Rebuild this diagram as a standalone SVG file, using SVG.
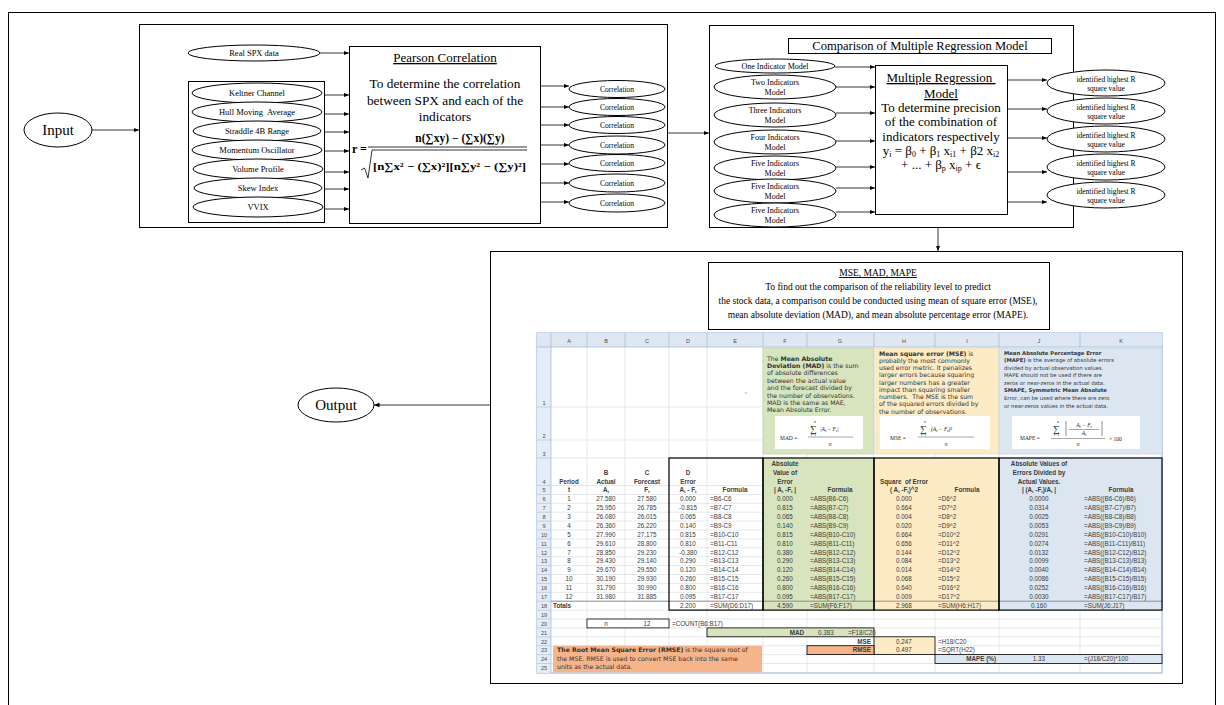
<svg xmlns="http://www.w3.org/2000/svg" width="1224" height="705" viewBox="0 0 1224 705">
<defs>
<marker id="ah" markerWidth="6" markerHeight="6" refX="5.5" refY="3" orient="auto" markerUnits="userSpaceOnUse">
<path d="M0,0.8 L5.5,3 L0,5.2 Z" fill="#000"/>
</marker>
</defs>
<style>
.bx{fill:#fff;stroke:#000;stroke-width:1}
.bn{fill:none;stroke:#000;stroke-width:1}
.el{fill:#fff;stroke:#000;stroke-width:1}
.sf{font-family:"Liberation Serif","Times New Roman",serif;fill:#000}
.mid{text-anchor:middle}
#connectors path{stroke:#000;stroke-width:0.8;fill:none;marker-end:url(#ah)}
.s{font-family:"Liberation Sans",Arial,sans-serif;font-size:6.3px;fill:#3b3b3b}
.m{text-anchor:middle}
.r{text-anchor:end}
.w{font-weight:bold}
.h{font-family:"Liberation Sans",Arial,sans-serif;font-size:5.6px;fill:#4a4a4a;text-anchor:middle}
.dg{font-family:"DejaVu Sans",sans-serif;font-size:6.2px;fill:#333}
.db{font-family:"DejaVu Sans",sans-serif;font-size:5.3px;fill:#333}
.fm{font-family:"Liberation Serif","Times New Roman",serif;fill:#222}
.sub{font-size:4.4px}
.grid{stroke:#d4d8de;stroke-width:0.6;fill:none}
.tb{fill:none;stroke:#000;stroke-width:1.2}
</style>

<rect id="frame" x="8.5" y="12.5" width="1207" height="700" class="bn"/>

<g id="input">
<ellipse class="el" cx="58" cy="130" rx="34" ry="17"/>
<text class="sf mid" x="58" y="135" font-size="15">Input</text>
</g>

<g id="indicatorStage">
<rect class="bx" x="139.5" y="24.5" width="528" height="203"/>
<rect class="bn" x="188.5" y="81.5" width="136" height="141"/>
</g>

<g id="realSPX">
<ellipse class="el" cx="254" cy="53" rx="66" ry="8"/>
<text class="sf mid" x="254" y="56" font-size="8.5">Real SPX data</text>
</g>
<g id="keltner"><ellipse class="el" cx="257" cy="93" rx="65" ry="10"/><text class="sf mid" x="257" y="96" font-size="8.5">Keltner Channel</text></g>
<g id="hull"><ellipse class="el" cx="257" cy="112" rx="65" ry="10"/><text class="sf mid" x="257" y="115" font-size="8.5" xml:space="preserve">Hull Moving  Average</text></g>
<g id="straddle"><ellipse class="el" cx="257" cy="131" rx="64" ry="10"/><text class="sf mid" x="257" y="134" font-size="8.5">Straddle 4B Range</text></g>
<g id="momentum"><ellipse class="el" cx="257" cy="150" rx="65" ry="10"/><text class="sf mid" x="257" y="153" font-size="8.5">Momentum Oscillator</text></g>
<g id="volume"><ellipse class="el" cx="258" cy="169" rx="65" ry="10"/><text class="sf mid" x="258" y="172" font-size="8.5">Volume Profile</text></g>
<g id="skew"><ellipse class="el" cx="258" cy="188" rx="64" ry="10"/><text class="sf mid" x="258" y="191" font-size="8.5">Skew Index</text></g>
<g id="vvix"><ellipse class="el" cx="258" cy="207" rx="65" ry="10"/><text class="sf mid" x="258" y="210" font-size="8.5">VVIX</text></g>

<g id="pearson">
<rect class="bx" x="349.5" y="46.5" width="191" height="177"/>
<text class="sf mid" x="445" y="62" font-size="13" text-decoration="underline">Pearson Correlation</text>
<text class="sf mid" x="445" y="88" font-size="13.3">To determine the correlation</text>
<text class="sf mid" x="445" y="105" font-size="13.3">between SPX and each of the</text>
<text class="sf mid" x="445" y="121" font-size="13.3">indicators</text>
<text class="sf" x="352" y="153" font-size="12" font-weight="bold">r =</text>
<text class="sf mid" x="460" y="142" font-size="11.5" font-weight="bold">n(∑xy) − (∑x)(∑y)</text>
<line x1="368" y1="147" x2="527" y2="147" stroke="#000" stroke-width="0.8"/>
<path d="M361,170 L364.5,168 L368,178 L372,150 L527,150" fill="none" stroke="#000" stroke-width="0.8"/>
<text class="sf" x="373" y="170" font-size="11" font-weight="bold" textLength="153" lengthAdjust="spacingAndGlyphs">[n∑x² − (∑x)²][n∑y² − (∑y)²]</text>
</g>

<g id="corr1"><ellipse class="el" cx="617" cy="89" rx="48" ry="8.5"/><text class="sf mid" x="617" y="91.6" font-size="7.5">Correlation</text></g>
<g id="corr2"><ellipse class="el" cx="617" cy="107" rx="48" ry="8.5"/><text class="sf mid" x="617" y="109.6" font-size="7.5">Correlation</text></g>
<g id="corr3"><ellipse class="el" cx="617" cy="125" rx="48" ry="8.5"/><text class="sf mid" x="617" y="127.6" font-size="7.5">Correlation</text></g>
<g id="corr4"><ellipse class="el" cx="617" cy="145" rx="48" ry="9"/><text class="sf mid" x="617" y="147.6" font-size="7.5">Correlation</text></g>
<g id="corr5"><ellipse class="el" cx="617" cy="163" rx="48" ry="8.5"/><text class="sf mid" x="617" y="165.6" font-size="7.5">Correlation</text></g>
<g id="corr6"><ellipse class="el" cx="617" cy="183" rx="48" ry="9"/><text class="sf mid" x="617" y="185.6" font-size="7.5">Correlation</text></g>
<g id="corr7"><ellipse class="el" cx="617" cy="203" rx="48" ry="9"/><text class="sf mid" x="617" y="205.6" font-size="7.5">Correlation</text></g>

<g id="regressionStage">
<rect class="bx" x="709.5" y="25.5" width="364" height="202"/>
<rect class="bx" x="788.5" y="38.5" width="263" height="15"/>
<text class="sf mid" x="920" y="50" font-size="12.5">Comparison of Multiple Regression Model</text>
</g>

<g id="model1"><ellipse class="el" cx="775" cy="66" rx="60" ry="7"/><text class="sf mid" x="775" y="68.8" font-size="8">One Indicator Model</text></g>
<g id="model2"><ellipse class="el" cx="775" cy="87" rx="61" ry="12"/><text class="sf mid" x="775" y="85" font-size="8">Two Indicators</text><text class="sf mid" x="775" y="95" font-size="8">Model</text></g>
<g id="model3"><ellipse class="el" cx="775" cy="115" rx="61" ry="12"/><text class="sf mid" x="775" y="113" font-size="8">Three Indicators</text><text class="sf mid" x="775" y="123" font-size="8">Model</text></g>
<g id="model4"><ellipse class="el" cx="775" cy="142" rx="61" ry="12"/><text class="sf mid" x="775" y="140" font-size="8">Four Indicators</text><text class="sf mid" x="775" y="150" font-size="8">Model</text></g>
<g id="model5"><ellipse class="el" cx="775" cy="168" rx="61" ry="12"/><text class="sf mid" x="775" y="166" font-size="8">Five Indicators</text><text class="sf mid" x="775" y="176" font-size="8">Model</text></g>
<g id="model6"><ellipse class="el" cx="775" cy="191" rx="61" ry="12"/><text class="sf mid" x="775" y="189" font-size="8">Five Indicators</text><text class="sf mid" x="775" y="199" font-size="8">Model</text></g>
<g id="model7"><ellipse class="el" cx="775" cy="215" rx="61" ry="12"/><text class="sf mid" x="775" y="213" font-size="8">Five Indicators</text><text class="sf mid" x="775" y="223" font-size="8">Model</text></g>

<g id="multipleRegression">
<rect class="bx" x="875.5" y="65.5" width="132" height="149"/>
<text class="sf mid" x="941" y="82" font-size="13" text-decoration="underline">Multiple Regression&#160;</text>
<text class="sf mid" x="941" y="98" font-size="13" text-decoration="underline">Model</text>
<text class="sf mid" x="941" y="112" font-size="13">To determine precision</text>
<text class="sf mid" x="941" y="126" font-size="13">of the combination of</text>
<text class="sf mid" x="941" y="141" font-size="13">indicators respectively</text>
<text class="sf mid" x="941" y="155" font-size="13">y<tspan font-size="8" dy="2">i</tspan><tspan dy="-2"> = β</tspan><tspan font-size="8" dy="2">0</tspan><tspan dy="-2"> + β</tspan><tspan font-size="8" dy="2">1</tspan><tspan dy="-2"> x</tspan><tspan font-size="8" dy="2">i1</tspan><tspan dy="-2"> + β2 x</tspan><tspan font-size="8" dy="2">i2</tspan></text>
<text class="sf mid" x="941" y="169" font-size="13">+ ... + β<tspan font-size="8" dy="2">p</tspan><tspan dy="-2"> x</tspan><tspan font-size="8" dy="2">ip</tspan><tspan dy="-2"> + ϵ</tspan></text>
</g>

<g id="out1"><ellipse class="el" cx="1106" cy="83" rx="59" ry="13"/><text class="sf mid" x="1106" y="81.5" font-size="7.5">identified highest R</text><text class="sf mid" x="1106" y="91" font-size="7.5">square value</text></g>
<g id="out2"><ellipse class="el" cx="1106" cy="111" rx="59" ry="13"/><text class="sf mid" x="1106" y="109.5" font-size="7.5">identified highest R</text><text class="sf mid" x="1106" y="119" font-size="7.5">square value</text></g>
<g id="out3"><ellipse class="el" cx="1106" cy="139" rx="59" ry="13"/><text class="sf mid" x="1106" y="137.5" font-size="7.5">identified highest R</text><text class="sf mid" x="1106" y="147" font-size="7.5">square value</text></g>
<g id="out4"><ellipse class="el" cx="1106" cy="167" rx="59" ry="13"/><text class="sf mid" x="1106" y="165.5" font-size="7.5">identified highest R</text><text class="sf mid" x="1106" y="175" font-size="7.5">square value</text></g>
<g id="out5"><ellipse class="el" cx="1106" cy="195" rx="59" ry="13"/><text class="sf mid" x="1106" y="193.5" font-size="7.5">identified highest R</text><text class="sf mid" x="1106" y="203" font-size="7.5">square value</text></g>

<g id="errorStage">
<rect class="bx" x="490.5" y="251.5" width="692" height="432"/>
</g>

<g id="mseBox">
<rect class="bx" x="708.5" y="262.5" width="341" height="67"/>
<text class="sf mid" x="878" y="276" font-size="9.5" text-decoration="underline">MSE, MAD, MAPE</text>
<text class="sf mid" x="878" y="290" font-size="9.5">To find out the comparison of the reliability level to predict</text>
<text class="sf mid" x="878" y="304" font-size="9.5">the stock data, a comparison could be conducted using mean of square error (MSE),</text>
<text class="sf mid" x="878" y="318" font-size="9.5">mean absolute deviation (MAD), and mean absolute percentage error (MAPE).</text>
</g>

<g id="output">
<ellipse class="el" cx="336" cy="405" rx="38" ry="17"/>
<text class="sf mid" x="336" y="410" font-size="15">Output</text>
</g>

<g id="spreadsheet">
<rect x="537" y="333" width="625" height="340" fill="#fff" stroke="#8eaadb" stroke-width="1"/>
<rect x="537" y="333" width="625" height="14" fill="#dfe7f2"/>
<rect x="537" y="347" width="14" height="326" fill="#e4ecf7"/>
<path d="M537,347H1162 M551,333V673 M587,333V347 M625,333V347 M669,333V347 M707,333V347 M763,333V347 M807,333V347 M874,333V347 M935,333V347 M999,333V347 M1080,333V347" stroke="#9eb6ce" stroke-width="0.7" fill="none"/>
<g class="h">
<text x="569" y="342.5">A</text><text x="606" y="342.5">B</text><text x="647" y="342.5">C</text><text x="688" y="342.5">D</text><text x="735" y="342.5">E</text><text x="785" y="342.5">F</text><text x="840" y="342.5">G</text><text x="904" y="342.5">H</text><text x="967" y="342.5">I</text><text x="1039" y="342.5">J</text><text x="1121" y="342.5">K</text>
<text x="544" y="405">1</text><text x="544" y="438">2</text><text x="544" y="456">3</text><text x="544" y="483.5">4</text>
</g>
<path class="grid" d="M587,347V672.4 M625,347V672.4 M669,347V672.4 M707,347V672.4 M763,347V672.4 M807,347V672.4 M874,347V672.4 M935,347V672.4 M999,347V672.4 M1080,347V672.4 M551,407H1162 M551,440H1162 M551,458H1162 M551,485.5H1162 M551,494.4H1162 M551,503.3H1162 M551,512.2H1162 M551,521.1H1162 M551,530H1162 M551,538.9H1162 M551,547.8H1162 M551,556.7H1162 M551,565.6H1162 M551,574.5H1162 M551,583.4H1162 M551,592.3H1162 M551,601.2H1162 M551,610.1H1162 M551,619H1162 M551,627.9H1162 M551,636.8H1162 M551,645.7H1162 M551,654.6H1162 M551,663.5H1162"/>
<path d="M537,407H551 M537,440H551 M537,458H551 M537,485.5H551 M537,494.4H551 M537,503.3H551 M537,512.2H551 M537,521.1H551 M537,530H551 M537,538.9H551 M537,547.8H551 M537,556.7H551 M537,565.6H551 M537,574.5H551 M537,583.4H551 M537,592.3H551 M537,601.2H551 M537,610.1H551 M537,619H551 M537,627.9H551 M537,636.8H551 M537,645.7H551 M537,654.6H551 M537,663.5H551" stroke="#9eb6ce" stroke-width="0.5"/>
<text x="745" y="394" font-family="Liberation Sans,Arial,sans-serif" font-size="4" fill="#999">n</text>

<rect x="763" y="348" width="111" height="106" fill="#d7e4bd" stroke="#b9c99c" stroke-width="0.6"/>
<rect x="876" y="348" width="123" height="106" fill="#fcebc5" stroke="#e6d3a4" stroke-width="0.6"/>
<rect x="999" y="348" width="163" height="106" fill="#dce6f1" stroke="#b8cce4" stroke-width="0.6"/>
<g class="dg">
<text x="767" y="360.5">The <tspan font-weight="bold">Mean Absolute</tspan></text>
<text x="767" y="368"><tspan font-weight="bold">Deviation (MAD)</tspan> is the sum</text>
<text x="767" y="375.4">of absolute differences</text>
<text x="767" y="382.8">between the actual value</text>
<text x="767" y="390.2">and the forecast divided by</text>
<text x="767" y="397.6">the number of observations.</text>
<text x="767" y="405">MAD is the same as MAE,</text>
<text x="767" y="412.4">Mean Absolute Error.</text>
<text x="879" y="355.5"><tspan font-weight="bold">Mean square error (MSE)</tspan> is</text>
<text x="879" y="362.8">probably the most commonly</text>
<text x="879" y="370">used error metric. It penalizes</text>
<text x="879" y="377.3">larger errors because squaring</text>
<text x="879" y="384.5">larger numbers has a greater</text>
<text x="879" y="391.8">impact than squaring smaller</text>
<text x="879" y="399" xml:space="preserve">numbers.  The MSE is the sum</text>
<text x="879" y="406.3">of the squared errors divided by</text>
<text x="879" y="413.5">the number of observations.</text>
</g>
<g class="db">
<text x="1004" y="354.5" font-weight="bold">Mean Absolute Percentage Error</text>
<text x="1004" y="362.1"><tspan font-weight="bold">(MAPE)</tspan> is the average of absolute errors</text>
<text x="1004" y="369.6">divided by actual observation values.</text>
<text x="1004" y="377.2">MAPE should not be used if there are</text>
<text x="1004" y="384.8">zeros or near-zeros in the actual data.</text>
<text x="1004" y="392.4" font-weight="bold">SMAPE, Symmetric Mean Absolute</text>
<text x="1004" y="399.9">Error, can be used where there are zero</text>
<text x="1004" y="407.5">or near-zeros values in the actual data.</text>
</g>
<rect x="775" y="416" width="88" height="33" fill="#fff"/>
<rect x="880" y="416" width="110" height="33" fill="#fff"/>
<rect x="1012" y="416" width="128" height="33" fill="#fff"/>
<g class="fm">
<text x="780" y="440" font-size="5.5">MAD =</text>
<text x="814" y="423" font-size="3.8" font-style="italic">n</text>
<text x="810" y="432" font-size="9">∑</text>
<text x="811" y="436" font-size="3.8" font-style="italic">t=1</text>
<text x="820" y="431" font-size="5.5" font-style="italic">|A<tspan class="sub" dy="1">t</tspan><tspan dy="-1"> − F</tspan><tspan class="sub" dy="1">t</tspan><tspan dy="-1">|</tspan></text>
<line x1="808" y1="437" x2="853" y2="437" stroke="#222" stroke-width="0.4"/>
<text x="830" y="446" font-size="5.5" font-style="italic" text-anchor="middle">n</text>
<text x="890" y="440" font-size="5.5">MSE =</text>
<text x="924" y="423" font-size="3.8" font-style="italic">n</text>
<text x="920" y="432" font-size="9">∑</text>
<text x="921" y="436" font-size="3.8" font-style="italic">t=1</text>
<text x="931" y="431" font-size="5.5" font-style="italic">(A<tspan class="sub" dy="1">t</tspan><tspan dy="-1"> − F</tspan><tspan class="sub" dy="1">t</tspan><tspan dy="-1">)²</tspan></text>
<line x1="918" y1="437" x2="974" y2="437" stroke="#222" stroke-width="0.4"/>
<text x="946" y="446" font-size="5.5" font-style="italic" text-anchor="middle">n</text>
<text x="1020" y="440" font-size="5.5">MAPE =</text>
<text x="1057" y="423" font-size="3.8" font-style="italic">n</text>
<text x="1053" y="432" font-size="9">∑</text>
<text x="1054" y="436" font-size="3.8" font-style="italic">t=1</text>
<path d="M1066,421V436 M1102,421V436" stroke="#222" stroke-width="0.5"/>
<text x="1084" y="427" font-size="5.5" font-style="italic" text-anchor="middle">A<tspan class="sub" dy="1">t</tspan><tspan dy="-1"> − F</tspan><tspan class="sub" dy="1">t</tspan></text>
<line x1="1069" y1="429.5" x2="1099" y2="429.5" stroke="#222" stroke-width="0.4"/>
<text x="1084" y="435" font-size="5.5" font-style="italic" text-anchor="middle">A<tspan class="sub" dy="1">t</tspan></text>
<line x1="1051" y1="438.5" x2="1105" y2="438.5" stroke="#222" stroke-width="0.4"/>
<text x="1078" y="446" font-size="5.5" font-style="italic" text-anchor="middle">n</text>
<text x="1109" y="441" font-size="5.5">× 100</text>
</g>

<rect x="763" y="458" width="111" height="152.1" fill="#d7e4bd"/>
<rect x="874" y="458" width="125" height="152.1" fill="#fcebc5"/>
<rect x="999" y="458" width="163" height="152.1" fill="#dce6f1"/>
<path d="M551,601.2H1162" stroke="#555" stroke-width="0.6"/>
<rect class="tb" x="669" y="458" width="94" height="152.1"/>
<rect class="tb" x="763" y="458" width="111" height="152.1"/>
<rect class="tb" x="874" y="458" width="125" height="152.1"/>
<rect class="tb" x="999" y="458" width="163" height="152.1"/>

<g class="s w">
<text class="m" x="569" y="483.5">Period</text>
<text class="m" x="606" y="475">B</text><text class="m" x="606" y="483.5">Actual</text>
<text class="m" x="647" y="475">C</text><text class="m" x="647" y="483.5">Forecast</text>
<text class="m" x="688" y="475">D</text><text class="m" x="688" y="483.5">Error</text>
<text class="m" x="785" y="465.5">Absolute</text><text class="m" x="785" y="474.5">Value of</text><text class="m" x="785" y="483.5">Error</text>
<text class="m" x="904" y="483.5" xml:space="preserve">Square  of Error</text>
<text class="m" x="1039" y="465.5">Absolute Values of</text><text class="m" x="1039" y="474.5">Errors Divided by</text><text class="m" x="1039" y="483.5">Actual Values.</text>
</g>
<g transform="translate(0,492.2)">
<text class="h" x="544">5</text>
<g class="s w">
<text class="m" x="569">t</text>
<text class="m" x="606">A<tspan class="sub" dy="1">t</tspan></text>
<text class="m" x="647">F<tspan class="sub" dy="1">t</tspan></text>
<text class="m" x="688">A<tspan class="sub" dy="1">t</tspan><tspan dy="-1"> - F</tspan><tspan class="sub" dy="1">t</tspan></text>
<text class="m" x="735">Formula</text>
<text class="m" x="785">| A<tspan class="sub" dy="1">t</tspan><tspan dy="-1"> -F</tspan><tspan class="sub" dy="1">t</tspan><tspan dy="-1"> |</tspan></text>
<text class="m" x="840">Formula</text>
<text class="m" x="904">( A<tspan class="sub" dy="1">t</tspan><tspan dy="-1"> -F</tspan><tspan class="sub" dy="1">t</tspan><tspan dy="-1">)^2</tspan></text>
<text class="m" x="967">Formula</text>
<text class="m" x="1039">| (A<tspan class="sub" dy="1">t</tspan><tspan dy="-1"> -F</tspan><tspan class="sub" dy="1">t</tspan><tspan dy="-1">)/A</tspan><tspan class="sub" dy="1">t</tspan><tspan dy="-1"> |</tspan></text>
<text class="m" x="1121">Formula</text>
</g>
</g>

<g transform="translate(0,501.1)"><text class="h" x="544">6</text><g class="s"><text class="m" x="569">1</text><text class="m" x="606">27.580</text><text class="m" x="647">27.580</text><text class="m" x="688">0.000</text><text x="710">=B6-C6</text><text class="m" x="785">0.000</text><text x="810">=ABS(B6-C6)</text><text class="m" x="904">0.000</text><text x="938">=D6^2</text><text class="m" x="1039">0.0000</text><text x="1084">=ABS((B6-C6)/B6)</text></g></g>
<g transform="translate(0,510)"><text class="h" x="544">7</text><g class="s"><text class="m" x="569">2</text><text class="m" x="606">25.950</text><text class="m" x="647">26.785</text><text class="m" x="688">-0.815</text><text x="710">=B7-C7</text><text class="m" x="785">0.815</text><text x="810">=ABS(B7-C7)</text><text class="m" x="904">0.664</text><text x="938">=D7^2</text><text class="m" x="1039">0.0314</text><text x="1084">=ABS((B7-C7)/B7)</text></g></g>
<g transform="translate(0,518.9)"><text class="h" x="544">8</text><g class="s"><text class="m" x="569">3</text><text class="m" x="606">26.080</text><text class="m" x="647">26.015</text><text class="m" x="688">0.065</text><text x="710">=B8-C8</text><text class="m" x="785">0.065</text><text x="810">=ABS(B8-C8)</text><text class="m" x="904">0.004</text><text x="938">=D8^2</text><text class="m" x="1039">0.0025</text><text x="1084">=ABS((B8-C8)/B8)</text></g></g>
<g transform="translate(0,527.8)"><text class="h" x="544">9</text><g class="s"><text class="m" x="569">4</text><text class="m" x="606">26.360</text><text class="m" x="647">26.220</text><text class="m" x="688">0.140</text><text x="710">=B9-C9</text><text class="m" x="785">0.140</text><text x="810">=ABS(B9-C9)</text><text class="m" x="904">0.020</text><text x="938">=D9^2</text><text class="m" x="1039">0.0053</text><text x="1084">=ABS((B9-C9)/B9)</text></g></g>
<g transform="translate(0,536.7)"><text class="h" x="544">10</text><g class="s"><text class="m" x="569">5</text><text class="m" x="606">27.990</text><text class="m" x="647">27.175</text><text class="m" x="688">0.815</text><text x="710">=B10-C10</text><text class="m" x="785">0.815</text><text x="810">=ABS(B10-C10)</text><text class="m" x="904">0.664</text><text x="938">=D10^2</text><text class="m" x="1039">0.0291</text><text x="1084">=ABS((B10-C10)/B10)</text></g></g>
<g transform="translate(0,545.6)"><text class="h" x="544">11</text><g class="s"><text class="m" x="569">6</text><text class="m" x="606">29.610</text><text class="m" x="647">28.800</text><text class="m" x="688">0.810</text><text x="710">=B11-C11</text><text class="m" x="785">0.810</text><text x="810">=ABS(B11-C11)</text><text class="m" x="904">0.656</text><text x="938">=D11^2</text><text class="m" x="1039">0.0274</text><text x="1084">=ABS((B11-C11)/B11)</text></g></g>
<g transform="translate(0,554.5)"><text class="h" x="544">12</text><g class="s"><text class="m" x="569">7</text><text class="m" x="606">28.850</text><text class="m" x="647">29.230</text><text class="m" x="688">-0.380</text><text x="710">=B12-C12</text><text class="m" x="785">0.380</text><text x="810">=ABS(B12-C12)</text><text class="m" x="904">0.144</text><text x="938">=D12^2</text><text class="m" x="1039">0.0132</text><text x="1084">=ABS((B12-C12)/B12)</text></g></g>
<g transform="translate(0,563.4)"><text class="h" x="544">13</text><g class="s"><text class="m" x="569">8</text><text class="m" x="606">29.430</text><text class="m" x="647">29.140</text><text class="m" x="688">0.290</text><text x="710">=B13-C13</text><text class="m" x="785">0.290</text><text x="810">=ABS(B13-C13)</text><text class="m" x="904">0.084</text><text x="938">=D13^2</text><text class="m" x="1039">0.0099</text><text x="1084">=ABS((B13-C13)/B13)</text></g></g>
<g transform="translate(0,572.3)"><text class="h" x="544">14</text><g class="s"><text class="m" x="569">9</text><text class="m" x="606">29.670</text><text class="m" x="647">29.550</text><text class="m" x="688">0.120</text><text x="710">=B14-C14</text><text class="m" x="785">0.120</text><text x="810">=ABS(B14-C14)</text><text class="m" x="904">0.014</text><text x="938">=D14^2</text><text class="m" x="1039">0.0040</text><text x="1084">=ABS((B14-C14)/B14)</text></g></g>
<g transform="translate(0,581.2)"><text class="h" x="544">15</text><g class="s"><text class="m" x="569">10</text><text class="m" x="606">30.190</text><text class="m" x="647">29.930</text><text class="m" x="688">0.260</text><text x="710">=B15-C15</text><text class="m" x="785">0.260</text><text x="810">=ABS(B15-C15)</text><text class="m" x="904">0.068</text><text x="938">=D15^2</text><text class="m" x="1039">0.0086</text><text x="1084">=ABS((B15-C15)/B15)</text></g></g>
<g transform="translate(0,590.1)"><text class="h" x="544">16</text><g class="s"><text class="m" x="569">11</text><text class="m" x="606">31.790</text><text class="m" x="647">30.990</text><text class="m" x="688">0.800</text><text x="710">=B16-C16</text><text class="m" x="785">0.800</text><text x="810">=ABS(B16-C16)</text><text class="m" x="904">0.640</text><text x="938">=D16^2</text><text class="m" x="1039">0.0252</text><text x="1084">=ABS((B16-C16)/B16)</text></g></g>
<g transform="translate(0,599)"><text class="h" x="544">17</text><g class="s"><text class="m" x="569">12</text><text class="m" x="606">31.980</text><text class="m" x="647">31.885</text><text class="m" x="688">0.095</text><text x="710">=B17-C17</text><text class="m" x="785">0.095</text><text x="810">=ABS(B17-C17)</text><text class="m" x="904">0.009</text><text x="938">=D17^2</text><text class="m" x="1039">0.0030</text><text x="1084">=ABS((B17-C17)/B17)</text></g></g>
<g transform="translate(0,607.9)"><text class="h" x="544">18</text><g class="s"><text class="w" x="553">Totals</text><text class="m" x="688">2.200</text><text x="710">=SUM(D6:D17)</text><text class="m" x="785">4.590</text><text x="810">=SUM(F6:F17)</text><text class="m" x="904">2.968</text><text x="938">=SUM(H6:H17)</text><text class="m" x="1039">0.160</text><text x="1084">=SUM(J6:J17)</text></g></g>

<g class="h">
<text x="544" y="616.8">19</text><text x="544" y="625.7">20</text><text x="544" y="634.6">21</text><text x="544" y="643.5">22</text><text x="544" y="652.4">23</text><text x="544" y="661.3">24</text><text x="544" y="670.2">25</text>
</g>
<rect x="587" y="619" width="82" height="8.9" fill="#fff" stroke="#000" stroke-width="0.8"/>
<rect x="707" y="627.9" width="167" height="8.9" fill="#d7e4bd" stroke="#000" stroke-width="0.8"/>
<rect x="874" y="636.8" width="61" height="17.8" fill="#fcebc5" stroke="#000" stroke-width="0.8"/>
<rect x="807" y="645.7" width="67" height="8.9" fill="#f6b48a" stroke="#000" stroke-width="0.8"/>
<rect x="935" y="654.6" width="227" height="8.9" fill="#dce6f1" stroke="#000" stroke-width="0.8"/>
<rect x="553" y="645.7" width="209" height="26.5" fill="#f6b48a"/>
<g class="s">
<text class="m" x="606" y="625.7">n</text><text class="m" x="647" y="625.7">12</text><text x="672" y="625.7">=COUNT(B6:B17)</text>
<text class="r w" x="804" y="634.6">MAD</text><text class="m" x="826" y="634.6">0.383</text><text x="848" y="634.6">=F18/C20</text>
<text class="r w" x="871" y="643.5">MSE</text><text class="m" x="904" y="643.5">0.247</text><text x="938" y="643.5">=H18/C20</text>
<text class="r w" x="871" y="652.4">RMSE</text><text class="m" x="904" y="652.4">0.497</text><text x="938" y="652.4">=SQRT(H22)</text>
<text class="r w" x="996" y="661.3">MAPE (%)</text><text class="m" x="1039" y="661.3">1.33</text><text x="1084" y="661.3">=(J18/C20)*100</text>
</g>
<g class="dg">
<text x="557" y="652.3"><tspan font-weight="bold">The Root Mean Square Error (RMSE)</tspan> is the square root of</text>
<text x="557" y="660.8">the MSE. RMSE is used to convert MSE back into the same</text>
<text x="557" y="669.3">units as the actual data.</text>
</g>
</g>

<g id="connectors">
<path d="M92,130 H139"/>
<path d="M320,53 H349"/>
<path d="M324,95 H349"/>
<path d="M324,114 H349"/>
<path d="M324,132 H349"/>
<path d="M324,151 H349"/>
<path d="M324,172 H349"/>
<path d="M324,189 H349"/>
<path d="M324,209 H349"/>
<path d="M541,86 H569"/>
<path d="M541,107 H569"/>
<path d="M541,125 H569"/>
<path d="M541,145 H569"/>
<path d="M541,164 H569"/>
<path d="M541,183 H569"/>
<path d="M541,202 H569"/>
<path d="M667,133 H709"/>
<path d="M835,67 H875"/>
<path d="M836,87 H875"/>
<path d="M836,113 H875"/>
<path d="M836,141 H875"/>
<path d="M836,167 H875"/>
<path d="M836,188 H875"/>
<path d="M836,212 H875"/>
<path d="M1007,80 H1047"/>
<path d="M1007,109 H1047"/>
<path d="M1007,138 H1047"/>
<path d="M1007,172 H1047"/>
<path d="M1007,202 H1047"/>
<path d="M938,228 V251"/>
<path d="M490,405 H374"/>
</g>
</svg>
